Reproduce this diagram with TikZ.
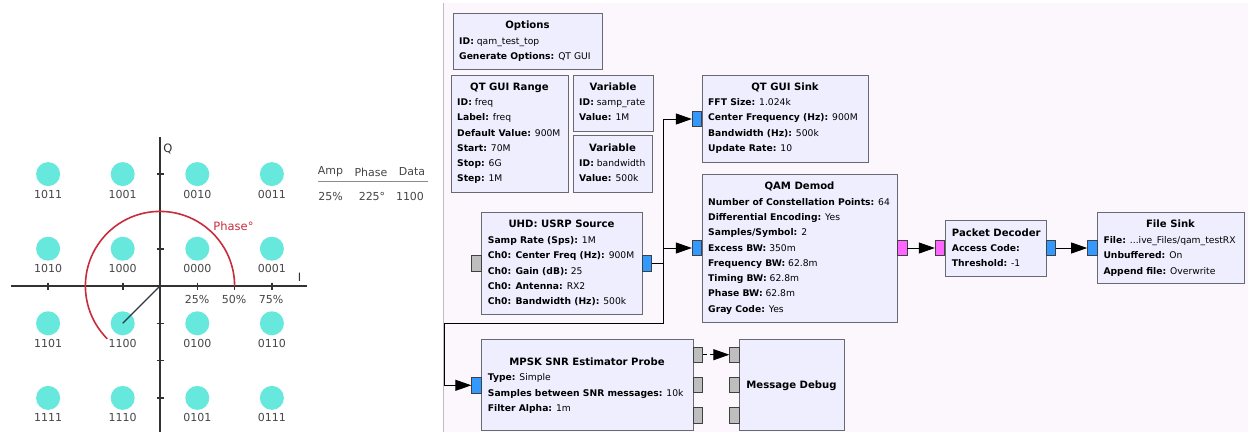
\documentclass[tikz,border=0pt]{standalone}
\usepackage{fontspec}
\setmainfont{DejaVu Sans}
\usetikzlibrary{arrows.meta}
\definecolor{panelbg}{RGB}{252,247,252}
\definecolor{sepc}{RGB}{190,190,190}
\definecolor{blkfill}{RGB}{238,238,255}
\definecolor{blkdraw}{RGB}{105,105,115}
\definecolor{portblue}{RGB}{51,153,255}
\definecolor{portpink}{RGB}{255,102,255}
\definecolor{portgray}{RGB}{190,190,190}
\definecolor{dotc}{RGB}{102,232,220}
\definecolor{arcred}{RGB}{200,45,60}
\definecolor{axisc}{RGB}{50,50,50}
\definecolor{lblgray}{RGB}{70,70,70}
\definecolor{linec}{RGB}{45,55,70}
\newcommand\kv[2]{\textbf{#1:} #2}
\tikzset{
  blk/.style={draw=blkdraw, fill=blkfill, line width=1.2pt, inner sep=0pt},
  port/.style={draw=black!75, line width=0.8pt, minimum width=9.5pt, minimum height=15.5pt, inner sep=0pt},
  txt/.style={inner sep=0pt, anchor=base west, font=\fontsize{9.2}{11}\selectfont},
  ttl/.style={inner sep=0pt, anchor=base, font=\fontsize{10.1}{12}\selectfont\bfseries},
  wire/.style={line width=0.9pt, black},
  arrowed/.style={-{Triangle[length=16pt,width=11pt]}},
  dot/.style={circle, fill=dotc, draw=none, minimum size=24pt, inner sep=0pt},
  dlab/.style={inner sep=0pt, text=lblgray, font=\fontsize{11}{13}\selectfont},
  axis/.style={axisc, line width=1.6pt},
  tickm/.style={axisc, line width=1.6pt},
}
\newcommand\grcblk[7]{%
  \node[blk, anchor=north west, minimum width={(#4-#2)*1pt}, minimum height={(#5-#3)*1pt}] (#1) at (#2,#3) {};
  \node[ttl] (#1-t) at ({(#2+#4)/2},{#6+3.7}) {#7};}
\newcommand\grclines[4]{%
  \foreach \myline [count=\myi] in {#4} {\node[txt] (#1-l\myi) at (#2,{#3+3.4+(\myi-1)*15.3}) {\myline};}}
\begin{document}
\begin{tikzpicture}[x=1pt,y=-1pt]
\useasboundingbox (0,0) rectangle (1248,432);
\fill[white] (0,0) rectangle (1248,432);
\fill[panelbg] (443,3) rectangle (1248,432);
\draw[sepc, line width=1pt] (443,3) -- (443,432);

% ---------------- constellation ----------------
\def\uu{37.3}
\foreach \lab/\i/\j in {1011/-3/-3,1001/-1/-3,0010/1/-3,0011/3/-3,
                        1010/-3/-1,1000/-1/-1,0000/1/-1,0001/3/-1,
                        1101/-3/1,1100/-1/1,0100/1/1,0110/3/1,
                        1111/-3/3,1110/-1/3,0101/1/3,0111/3/3}{
  \node[dot] (d\lab) at ({160+\i*\uu},{286+\j*\uu}) {};
  \node[dlab] (l\lab) at ({160+\i*\uu},{286+\j*\uu+20}) {\lab};
}
\draw[axis] (11,286) -- (307,286);
\draw[axis] (160,137) -- (160,432);
\foreach \k in {-3,-2,-1,1,2,3}{
  \draw[tickm] ({160+\k*\uu},282.5) -- ({160+\k*\uu},289.5);
  \draw[tickm] (156.5,{286+\k*\uu}) -- (163.5,{286+\k*\uu});
}
\coordinate (orig) at (160,286);
\draw[arcred, line width=1.6pt] (234.6,286) arc[start angle=0, end angle=-225, radius=74.6];
\draw[linec, line width=1.1pt] (orig) -- (d1100.center);
\node[dlab, text=axisc, font=\fontsize{11.5}{13}\selectfont] (qlab) at (168,149) {Q};
\node[dlab, text=axisc, font=\fontsize{11.5}{13}\selectfont] (ilab) at (299.5,277) {I};
\node[dlab] (p25) at (197,299.5) {25\%};
\node[dlab] (p50) at (234,299.5) {50\%};
\node[dlab] (p75) at (271,299.5) {75\%};
\node[dlab, text=arcred, font=\fontsize{11.5}{13}\selectfont] (phl) at (233.5,226) {Phase°};
\node[dlab] (tAmp) at (330.5,172) {Amp};
\node[dlab] (tPh) at (371,172) {Phase};
\node[dlab] (tDa) at (412,172) {Data};
\draw[black!45, line width=1.5pt] (318,181.5) -- (428,181.5);
\node[dlab] (vAmp) at (330.5,196) {25\%};
\node[dlab] (vPh) at (372,196) {225°};
\node[dlab] (vDa) at (410,196) {1100};

% ---------------- GRC blocks ----------------
\grcblk{opt}{453}{13}{602}{69}{25}{Options}
\grclines{opt}{459}{40.7}{\kv{ID}{qam\_test\_top},\kv{Generate Options}{QT GUI}}

\grcblk{range}{451}{75}{568}{192}{87}{QT GUI Range}
\grclines{range}{457}{102}{\kv{ID}{freq},\kv{Label}{freq},\kv{Default Value}{900M},\kv{Start}{70M},\kv{Stop}{6G},\kv{Step}{1M}}

\grcblk{varA}{573}{75}{653}{131}{87}{Variable}
\grclines{varA}{579}{102}{\kv{ID}{samp\_rate},\kv{Value}{1M}}

\grcblk{varB}{573}{135}{652}{192}{147.7}{Variable}
\grclines{varB}{579}{163}{\kv{ID}{bandwidth},\kv{Value}{500k}}

\grcblk{sink}{702}{75}{868}{162}{87}{QT GUI Sink}
\grclines{sink}{708}{102}{\kv{FFT Size}{1.024k},\kv{Center Frequency (Hz)}{900M},\kv{Bandwidth (Hz)}{500k},\kv{Update Rate}{10}}

\grcblk{qam}{702}{174}{897}{322}{186}{QAM Demod}
\grclines{qam}{708}{201.7}{\kv{Number of Constellation Points}{64},\kv{Differential Encoding}{Yes},\kv{Samples/Symbol}{2},\kv{Excess BW}{350m},\kv{Frequency BW}{62.8m},\kv{Timing BW}{62.8m},\kv{Phase BW}{62.8m},\kv{Gray Code}{Yes}}

\grcblk{uhd}{481}{212}{642}{314}{224}{UHD: USRP Source}
\grclines{uhd}{487.7}{240}{\kv{Samp Rate (Sps)}{1M},\kv{Ch0: Center Freq (Hz)}{900M},\kv{Ch0: Gain (dB)}{25},\kv{Ch0: Antenna}{RX2},\kv{Ch0: Bandwidth (Hz)}{500k}}

\grcblk{mpsk}{481}{339}{693}{430}{361.7}{MPSK SNR Estimator Probe}
\grclines{mpsk}{487.7}{377.3}{\kv{Type}{Simple},\kv{Samples between SNR messages}{10k},\kv{Filter Alpha}{1m}}

\grcblk{md}{739}{339}{844}{430}{384.3}{Message Debug}

\node[blk, anchor=north west, minimum width=101pt, minimum height=56pt] (pd) at (945,220) {};
\node[ttl, anchor=base west] (pd-t) at (951.7,236) {Packet Decoder};
\node[txt] (pd-l1) at (951.7,251.4) {\kv{Access Code}{}};
\node[txt] (pd-l2) at (951.7,266.2) {\kv{Threshold}{-1}};

\grcblk{fs}{1097}{212}{1244}{283}{224}{File Sink}
\grclines{fs}{1103.3}{240}{\kv{File}{...ive\_Files/qam\_testRX},\kv{Unbuffered}{On},\kv{Append file}{Overwrite}}

% ---------------- ports ----------------
\node[port, fill=portblue] (pSinkIn) at (697,119) {};
\node[port, fill=portgray] (pUhdIn) at (476.5,263.5) {};
\node[port, fill=portblue] (pUhdOut) at (647,263.5) {};
\node[port, fill=portblue] (pQamIn) at (697,248) {};
\node[port, fill=portpink] (pQamOut) at (902.3,248) {};
\node[port, fill=portpink] (pPdIn) at (940,248) {};
\node[port, fill=portblue] (pPdOut) at (1051,248) {};
\node[port, fill=portblue] (pFsIn) at (1092.3,248) {};
\node[port, fill=portblue] (pMpskIn) at (476.5,385.3) {};
\node[port, fill=portgray] (pMpskO1) at (698,354.7) {};
\node[port, fill=portgray] (pMpskO2) at (698,384.7) {};
\node[port, fill=portgray] (pMpskO3) at (698,415.3) {};
\node[port, fill=portgray] (pMdI1) at (734.5,354.7) {};
\node[port, fill=portgray] (pMdI2) at (734.5,384.7) {};
\node[port, fill=portgray] (pMdI3) at (734.5,415.3) {};

% ---------------- connections ----------------
\coordinate (j) at (663,263.5);
\coordinate (jd) at (663,323);
\coordinate (jl) at (444.5,323);
\draw[wire] (pUhdOut.east) -- (j);
\draw[wire, arrowed] (j) |- (pSinkIn.west);
\draw[wire, arrowed] (j) |- (pQamIn.west);
\draw[wire, arrowed] (j) -- (jd) -- (jl) |- (pMpskIn.west);
\draw[wire, arrowed] (pQamOut.east) -- (pPdIn.west);
\draw[wire, arrowed] (pPdOut.east) -- (pFsIn.west);
\draw[wire, arrowed, dash pattern=on 4pt off 3pt] (pMpskO1.east) -- (pMdI1.west);
\end{tikzpicture}
\end{document}
